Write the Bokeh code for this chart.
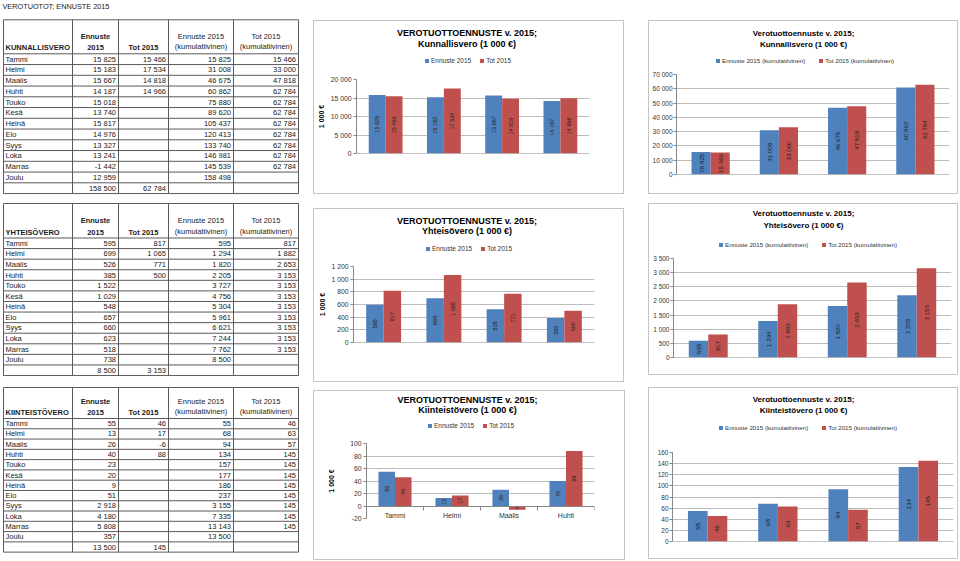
import math
from bokeh.plotting import figure
from bokeh.models import (Range1d, FixedTicker, Legend, LegendItem, ColumnDataSource, Spacer)
from bokeh.layouts import row, column
from bokeh.transform import dodge
from bokeh.core.properties import value
from bokeh.embed import file_html
from bokeh.resources import INLINE

FONT = "Liberation Sans"
BLUE = "#4F81BD"
RED = "#C0504D"

# ---------------- data ----------------
page_title = "VEROTUOTOT; ENNUSTE 2015"
months = ["Tammi", "Helmi", "Maalis", "Huhti", "Touko", "Kesä", "Heinä", "Elo",
          "Syys", "Loka", "Marras", "Joulu"]
header_ennuste = ["Ennuste", "2015"]
header_tot = "Tot 2015"
header_ennuste_cum = ["Ennuste 2015", "(kumulatiivinen)"]
header_tot_cum = ["Tot 2015", "(kumulatiivinen)"]

kunnallis_name = "KUNNALLISVERO"
kunnallis_ennuste = [15825, 15183, 15667, 14187, 15018, 13740, 15817, 14976, 13327, 13241, -1442, 12959]
kunnallis_tot = [15466, 17534, 14818, 14966]
kunnallis_ennuste_cum = [15825, 31008, 46675, 60862, 75880, 89620, 105437, 120413, 133740, 146981, 145539, 158498]
kunnallis_tot_cum = [15466, 33000, 47818, 62784, 62784, 62784, 62784, 62784, 62784, 62784, 62784]
kunnallis_totals = [158500, 62784]

yhteiso_name = "YHTEISÖVERO"
yhteiso_ennuste = [595, 699, 526, 385, 1522, 1029, 548, 657, 660, 623, 518, 738]
yhteiso_tot = [817, 1065, 771, 500]
yhteiso_ennuste_cum = [595, 1294, 1820, 2205, 3727, 4756, 5304, 5961, 6621, 7244, 7762, 8500]
yhteiso_tot_cum = [817, 1882, 2653, 3153, 3153, 3153, 3153, 3153, 3153, 3153, 3153]
yhteiso_totals = [8500, 3153]

kiinteisto_name = "KIINTEISTÖVERO"
kiinteisto_ennuste = [55, 13, 26, 40, 23, 20, 9, 51, 2918, 4180, 5808, 357]
kiinteisto_tot = [46, 17, -6, 88]
kiinteisto_ennuste_cum = [55, 68, 94, 134, 157, 177, 186, 237, 3155, 7335, 13143, 13500]
kiinteisto_tot_cum = [46, 63, 57, 145, 145, 145, 145, 145, 145, 145, 145]
kiinteisto_totals = [13500, 145]

chart_months = months[:4]
chart_index = ["1", "2", "3", "4"]
legend_monthly = ["Ennuste 2015", "Tot 2015"]
legend_cum = ["Ennuste 2015 (kumulatiivinen)", "Tot 2015 (kumulatiivinen)"]
y_label = "1 000 €"
title_monthly = "VEROTUOTTOENNUSTE v. 2015;"
title_cum = "Verotuottoennuste v. 2015;"
subtitles = ["Kunnallisvero (1 000 €)", "Yhteisövero (1 000 €)", "Kiinteistövero (1 000 €)"]


def fmt(v):
    if v is None:
        return ""
    s = f"{abs(v):,}".replace(",", " ")
    return ("-" if v < 0 else "") + s


def blank_canvas(w, h):
    p = figure(width=w, height=h, x_range=Range1d(0, w), y_range=Range1d(h, 0),
               output_backend="svg", toolbar_location=None, min_border=0,
               frame_align=False)
    p.axis.visible = False
    p.grid.visible = False
    p.outline_line_color = None
    return p


def txt(p, xs, ys, ts, align, bold=False, size="7.5px", color="#1a1a1a"):
    p.text(x=xs, y=ys, text=ts, text_align=align, text_baseline="middle",
           text_font=value(FONT), text_font_size=size,
           text_font_style="bold" if bold else "normal", text_color=color)


# ---------------- tables (left column) ----------------
COLS = [3, 72, 118, 168, 233, 298]
tp = blank_canvas(305, 561)


def draw_table(p, name, top, hb, rh, ennuste, tot, e_cum, t_cum, totals):
    n = 13
    bottom = hb + n * rh
    x0, y0, x1, y1 = [], [], [], []
    for y in [top, hb] + [hb + i * rh for i in range(1, n + 1)]:
        x0.append(COLS[0]); x1.append(COLS[-1]); y0.append(y); y1.append(y)
    for x in COLS:
        x0.append(x); x1.append(x); y0.append(top); y1.append(bottom)
    p.segment(x0=x0, y0=y0, x1=x1, y1=y1, line_color="#5a5a5a", line_width=1)
    l1, l2 = hb - 17.5, hb - 6
    c = [(COLS[i] + COLS[i + 1]) / 2 for i in range(5)]
    txt(p, [COLS[0] + 2], [l2], [name], "left", bold=True)
    txt(p, [c[1], c[1], c[2]], [l1, l2, l2], header_ennuste + [header_tot], "center", bold=True)
    txt(p, [c[3], c[3], c[4], c[4]], [l1, l2 - 1, l1, l2 - 1],
        header_ennuste_cum + header_tot_cum, "center")
    mx, my, mt = [], [], []
    rx, ry, rt = [], [], []
    for i in range(12):
        yc = hb + (i + 0.5) * rh
        mx.append(COLS[0] + 2); my.append(yc); mt.append(months[i])
        cols_vals = [ennuste[i] if i < len(ennuste) else None,
                     tot[i] if i < len(tot) else None,
                     e_cum[i] if i < len(e_cum) else None,
                     t_cum[i] if i < len(t_cum) else None]
        for j, v in enumerate(cols_vals):
            if v is not None:
                rx.append(COLS[j + 2] - 2.5); ry.append(yc); rt.append(fmt(v))
    yc = hb + 12.5 * rh
    for j, v in enumerate(totals):
        rx.append(COLS[j + 2] - 2.5); ry.append(yc); rt.append(fmt(v))
    txt(p, mx, my, mt, "left")
    txt(p, rx, ry, rt, "right")


txt(tp, [2], [5.5], [page_title], "left", size="7.3px")
draw_table(tp, kunnallis_name, 19.3, 53.3, 10.75, kunnallis_ennuste, kunnallis_tot,
           kunnallis_ennuste_cum, kunnallis_tot_cum, kunnallis_totals)
draw_table(tp, yhteiso_name, 203, 237.5, 10.58, yhteiso_ennuste, yhteiso_tot,
           yhteiso_ennuste_cum, yhteiso_tot_cum, yhteiso_totals)
draw_table(tp, kiinteisto_name, 387, 418, 10.28, kiinteisto_ennuste, kiinteisto_tot,
           kiinteisto_ennuste_cum, kiinteisto_tot_cum, kiinteisto_totals)


# ---------------- charts ----------------
TOP_PAD = 6


def make_chart(cfg, cats, e_vals, t_vals, names, title1, title2, ylab):
    w, hh = cfg["w"], cfg["mt"] - TOP_PAD
    # header: two title lines + legend
    hp = blank_canvas(w, hh)
    txt(hp, [w / 2 + cfg["toff"]] * 2, list(cfg["tys"]), [title1, title2], "center",
        bold=True, size=cfg["tsize"], color="#000000")
    # zero-size swatch carriers for the legend entries
    d1 = hp.vbar(x=[0], top=[0], bottom=[0], width=0, fill_color=BLUE, line_color=None)
    d2 = hp.vbar(x=[0], top=[0], bottom=[0], width=0, fill_color=RED, line_color=None)
    leg = Legend(items=[LegendItem(label=names[0], renderers=[d1]),
                        LegendItem(label=names[1], renderers=[d2])],
                 orientation="horizontal", location=(cfg["legx"], hh - cfg["legc"] - 4),
                 glyph_width=5, glyph_height=5, label_height=8, label_width=10,
                 label_standoff=2, spacing=cfg["legspace"], padding=0, margin=0,
                 border_line_color=None, background_fill_alpha=0,
                 label_text_font=FONT, label_text_font_size=cfg["legsize"],
                 label_text_color="#333333")
    hp.add_layout(leg)

    bw = cfg["bw"]
    p = figure(width=w, height=cfg["h"] - hh, x_range=Range1d(0.5, 4.5),
               y_range=Range1d(cfg["ymin"], cfg["ymax"]),
               output_backend="svg", toolbar_location=None, frame_align=False,
               min_border_left=cfg["ml"], min_border_right=cfg["mr"],
               min_border_top=TOP_PAD, min_border_bottom=cfg["mb"])
    p.outline_line_color = None

    xs = [1, 2, 3, 4]
    src = ColumnDataSource(dict(
        x=xs, e=e_vals, t=t_vals,
        em=[v / 2 for v in e_vals], tm=[v / 2 for v in t_vals],
        el=[fmt(v) for v in e_vals], tl=[fmt(v) for v in t_vals]))
    p.vbar(x=dodge("x", -bw / 2, range=p.x_range), top="e", width=bw, source=src,
           fill_color=BLUE, line_color=None)
    p.vbar(x=dodge("x", bw / 2, range=p.x_range), top="t", width=bw, source=src,
           fill_color=RED, line_color=None)
    for col_x, col_y, col_t in [(-bw / 2, "em", "el"), (bw / 2, "tm", "tl")]:
        p.text(x=dodge("x", col_x, range=p.x_range), y=col_y, text=col_t, source=src,
               angle=math.pi / 2, text_align="center", text_baseline="middle",
               text_font=value(FONT), text_font_size=cfg["lsize"], text_color="#222222")

    ticks = list(range(cfg["ymin"], cfg["ymax"] + 1, cfg["ystep"]))
    p.yaxis.ticker = FixedTicker(ticks=ticks)
    p.yaxis.major_label_overrides = {t: fmt(t) for t in ticks}
    p.yaxis.major_tick_out = 3
    p.yaxis.major_tick_in = 0
    p.yaxis.minor_tick_line_color = None
    p.yaxis.major_label_standoff = cfg["ystand"]
    p.yaxis.axis_line_color = "#868686"
    p.yaxis.major_tick_line_color = "#868686"
    p.yaxis.major_label_text_font = FONT
    p.yaxis.major_label_text_font_size = cfg["ysize"]
    p.yaxis.major_label_text_color = "#333333"
    if ylab:
        p.yaxis.axis_label = ylab
        p.yaxis.axis_label_text_font = FONT
        p.yaxis.axis_label_text_font_size = "7px"
        p.yaxis.axis_label_text_font_style = "bold"
        p.yaxis.axis_label_standoff = cfg["ylstand"]
        p.yaxis.axis_label_text_color = "#000000"

    p.xaxis.ticker = FixedTicker(ticks=xs, minor_ticks=[0.5, 1.5, 2.5, 3.5, 4.5])
    p.xaxis.major_label_overrides = {x: c for x, c in zip(xs, cats)}
    p.xaxis.major_tick_out = 0
    p.xaxis.major_tick_in = 0
    p.xaxis.minor_tick_out = 4
    p.xaxis.minor_tick_in = 0
    p.xaxis.minor_tick_line_color = "#868686"
    p.xaxis.axis_line_color = "#868686"
    p.xaxis.major_label_standoff = cfg["xstand"]
    p.xaxis.major_label_text_font = FONT
    p.xaxis.major_label_text_font_size = cfg["xsize"]
    p.xaxis.major_label_text_color = "#333333"
    p.xaxis.fixed_location = 0

    p.xgrid.visible = False
    p.ygrid.ticker = FixedTicker(ticks=ticks)
    p.ygrid.grid_line_color = "#bcbcbc"
    return column(hp, p, styles={"border": "1px solid #c4c4c4"})


mid = dict(bw=0.29, tsize="9px", lsize="5.5px", legspace=8, legsize="6.5px", xsize="7px",
           xstand=5, toff=-2, ysize="6.8px", ystand=2)
rgt = dict(bw=0.28, tsize="8px", lsize="6.2px", legspace=13, legsize="6.2px", xsize="6.8px",
           xstand=5, toff=0, ylstand=0, ysize="6.5px", ystand=1)

c1 = make_chart(dict(mid, w=309, h=172, ml=40, mr=34, mt=58, mb=40, ymin=0, ymax=20000, ystep=5000,
                     tys=(11, 22), legc=39, legx=110, ylstand=3),
                chart_months, kunnallis_ennuste[:4], kunnallis_tot[:4], legend_monthly,
                title_monthly, subtitles[0], y_label)
c3 = make_chart(dict(mid, w=309, h=172, ml=39, mr=29, mt=57, mb=39, ymin=0, ymax=1200, ystep=200,
                     tys=(11, 21), legc=39, legx=111, ylstand=2),
                chart_months, yhteiso_ennuste[:4], yhteiso_tot[:4], legend_monthly,
                title_monthly, subtitles[1], y_label)
c5 = make_chart(dict(mid, w=310, h=168, ml=52, mr=30, mt=52, mb=41, ymin=-20, ymax=100, ystep=20,
                     tys=(8, 18), legc=34, legx=113, ylstand=12, xstand=2),
                chart_months, kiinteisto_ennuste[:4], kiinteisto_tot[:4], legend_monthly,
                title_monthly, subtitles[2], y_label)
c2 = make_chart(dict(rgt, w=308, h=172, ml=25, mr=8, mt=53, mb=19, ymin=0, ymax=70000, ystep=10000,
                     tys=(12, 23), legc=39, legx=66),
                chart_index, kunnallis_ennuste_cum[:4], kunnallis_tot_cum[:4], legend_cum,
                title_cum, subtitles[0], None)
c4 = make_chart(dict(rgt, w=308, h=170, ml=24, mr=6, mt=54, mb=17, ymin=0, ymax=3500, ystep=500,
                     tys=(9, 21), legc=40, legx=69),
                chart_index, yhteiso_ennuste_cum[:4], yhteiso_tot_cum[:4], legend_cum,
                title_cum, subtitles[1], None)
c6 = make_chart(dict(rgt, w=308, h=170, ml=23, mr=4, mt=64, mb=17, ymin=0, ymax=160, ystep=20,
                     tys=(11, 22), legc=39, legx=69),
                chart_index, kiinteisto_ennuste_cum[:4], kiinteisto_tot_cum[:4], legend_cum,
                title_cum, subtitles[2], None)

mid_col = column(Spacer(width=309, height=20), c1, Spacer(width=309, height=14), c3,
                 Spacer(width=309, height=8), c5)
rgt_col = column(Spacer(width=308, height=20), c2, Spacer(width=308, height=9), c4,
                 Spacer(width=308, height=12), c6)
layout = row(tp, Spacer(width=8, height=10), mid_col, Spacer(width=23, height=10), rgt_col)

open("out.html", "w").write(file_html(layout, INLINE))
